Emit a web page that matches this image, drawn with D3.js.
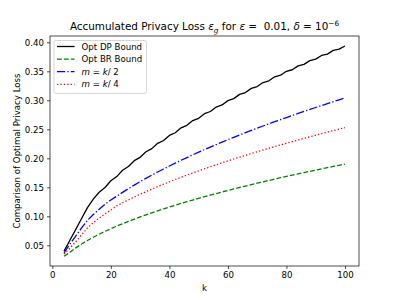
<!DOCTYPE html>
<html><head><meta charset="utf-8">
<script src="https://cdn.jsdelivr.net/npm/d3@7"></script>
<style>body{margin:0;background:#fff}svg{display:block;font-family:"DejaVu Sans",sans-serif}</style>
</head><body>
<script>
const kValues = [4,6,8,10,12,14,16,18,20,22,24,26,28,30,32,34,36,38,40,42,44,46,48,50,52,54,56,58,60,62,64,66,68,70,72,74,76,78,80,82,84,86,88,90,92,94,96,98,100];
const optDP = [0.040,0.0587,0.0775,0.0962,0.115,0.1295,0.1414,0.1496,0.1613,0.1685,0.1793,0.1858,0.1959,0.2017,0.2113,0.2167,0.2258,0.2307,0.2395,0.2441,0.2525,0.2568,0.2650,0.2690,0.2769,0.2807,0.2884,0.2920,0.2995,0.3029,0.3102,0.3134,0.3206,0.3237,0.3307,0.3336,0.3405,0.3433,0.3500,0.3527,0.3594,0.3620,0.3685,0.3710,0.3774,0.3797,0.3861,0.3883,0.3936];
const optBR = [0.031,0.0379,0.0455,0.0522,0.0583,0.0639,0.0691,0.0740,0.0786,0.0830,0.0872,0.0912,0.0951,0.0989,0.1025,0.1060,0.1094,0.1127,0.1159,0.1191,0.1222,0.1252,0.1281,0.1310,0.1338,0.1366,0.1393,0.1420,0.1446,0.1472,0.1497,0.1522,0.1547,0.1571,0.1595,0.1618,0.1642,0.1665,0.1687,0.1710,0.1732,0.1754,0.1775,0.1797,0.1818,0.1839,0.1859,0.1880,0.1900];
const mHalf = [0.037,0.052,0.066,0.080,0.093,0.103,0.112,0.1207,0.128,0.1346,0.1413,0.1477,0.1538,0.1597,0.1655,0.1710,0.1764,0.1816,0.1868,0.1917,0.1966,0.2013,0.2060,0.2106,0.2150,0.2194,0.2237,0.2280,0.2321,0.2362,0.2402,0.2442,0.2480,0.2519,0.2557,0.2594,0.2631,0.2667,0.2703,0.2739,0.2774,0.2808,0.2843,0.2876,0.2910,0.2943,0.2976,0.3008,0.3040];
const mQuarter = [0.035,0.045,0.056,0.068,0.080,0.089,0.097,0.104,0.111,0.118,0.1233,0.1284,0.1333,0.1380,0.1425,0.1469,0.1512,0.1554,0.1595,0.1635,0.1673,0.1711,0.1748,0.1784,0.1820,0.1855,0.1889,0.1923,0.1956,0.1988,0.2020,0.2052,0.2083,0.2113,0.2143,0.2173,0.2202,0.2231,0.2260,0.2288,0.2316,0.2344,0.2371,0.2398,0.2424,0.2451,0.2477,0.2502,0.2528];
const xTicks = [0,20,40,60,80,100];
const yTicks = [0.05,0.10,0.15,0.20,0.25,0.30,0.35,0.40];
const seriesNames = ["Opt DP Bound","Opt BR Bound","m = k/ 2","m = k/ 4"];

const W=399,H=299;
const mL=50,mR=359,mT=36,mB=266;
const svg=d3.select("body").append("svg").attr("width",W).attr("height",H);
const x=d3.scaleLinear().domain([-0.8,104.8]).range([mL,mR]);
const y=d3.scaleLinear().domain([0.0143,0.4109]).range([mB,mT]);

const series=[
 {name:seriesNames[0],vals:optDP,color:"#000000",dash:null},
 {name:seriesNames[1],vals:optBR,color:"#008000",dash:"4.8,2.1"},
 {name:seriesNames[2],vals:mHalf,color:"#0000ff",dash:"8.3,2.1,1.3,2.1"},
 {name:seriesNames[3],vals:mQuarter,color:"#ff0000",dash:"1.3,2.1"}
];
const line=d3.line().x(d=>x(d[0])).y(d=>y(d[1]));
const g=svg.append("g");
series.forEach(s=>{
  g.append("path").datum(kValues.map((k,i)=>[k,s.vals[i]]))
   .attr("d",line).attr("fill","none").attr("stroke",s.color)
   .attr("stroke-width",1.3).attr("stroke-dasharray",s.dash)
   .attr("stroke-linejoin","round");
});

const fs=8.65;
const xa=svg.append("g").attr("transform",`translate(0,${mB})`)
 .call(d3.axisBottom(x).tickValues(xTicks).tickFormat(d3.format("d")).tickSize(3).tickPadding(3));
const ya=svg.append("g").attr("transform",`translate(${mL},0)`)
 .call(d3.axisLeft(y).tickValues(yTicks).tickFormat(d3.format(".2f")).tickSize(3).tickPadding(3));
[xa,ya].forEach(a=>{
  a.select(".domain").remove();
  a.selectAll("line").attr("stroke","#000").attr("stroke-width",0.7);
  a.selectAll("text").attr("font-size",fs).attr("fill","#000").attr("font-family","DejaVu Sans");
});
svg.append("rect").attr("x",mL).attr("y",mT).attr("width",mR-mL).attr("height",mB-mT)
 .attr("fill","none").attr("stroke","#000").attr("stroke-width",0.7);

svg.append("text").attr("x",(mL+mR)/2).attr("y",291).attr("text-anchor","middle")
 .attr("font-size",fs).text("k");
svg.append("text").attr("transform",`translate(20,${(mT+mB)/2}) rotate(-90)`).attr("text-anchor","middle")
 .attr("font-size",fs).text("Comparison of Optimal Privacy Loss");

const t=svg.append("text").attr("x",(mL+mR)/2).attr("y",30).attr("text-anchor","middle").attr("font-size",10.4)
 .style("white-space","pre");
t.append("tspan").text("Accumulated Privacy Loss ");
t.append("tspan").attr("font-style","italic").text("ε");
t.append("tspan").attr("font-style","italic").attr("font-size",7.3).attr("dy",2.5).text("g");
t.append("tspan").attr("dy",-2.5).text(" for ");
t.append("tspan").attr("font-style","italic").text("ε");
t.append("tspan").text(" =\u00a0 0.01, ");
t.append("tspan").attr("font-style","italic").text("δ");
t.append("tspan").text(" = 10");
t.append("tspan").attr("font-size",7.3).attr("dy",-4).text("−6");

const lg=svg.append("g");
lg.append("rect").attr("x",54).attr("y",40.5).attr("width",92.5).attr("height",53).attr("rx",2)
 .attr("fill","#fff").attr("fill-opacity",0.8).attr("stroke","#cccccc").attr("stroke-width",0.8);
series.forEach((s,i)=>{
  const yy=46.5+i*12.6;
  lg.append("line").attr("x1",57).attr("x2",74.5).attr("y1",yy).attr("y2",yy)
   .attr("stroke",s.color).attr("stroke-width",1.3).attr("stroke-dasharray",s.dash);
  const tx=lg.append("text").attr("x",81.5).attr("y",yy+3.1).attr("font-size",fs);
  if(i<2){tx.text(s.name);}
  else{
    tx.append("tspan").attr("font-style","italic").text("m");
    tx.append("tspan").text(" = ");
    tx.append("tspan").attr("font-style","italic").text("k");
    tx.append("tspan").text(i===2?"/ 2":"/ 4");
  }
});
</script>
</body></html>
